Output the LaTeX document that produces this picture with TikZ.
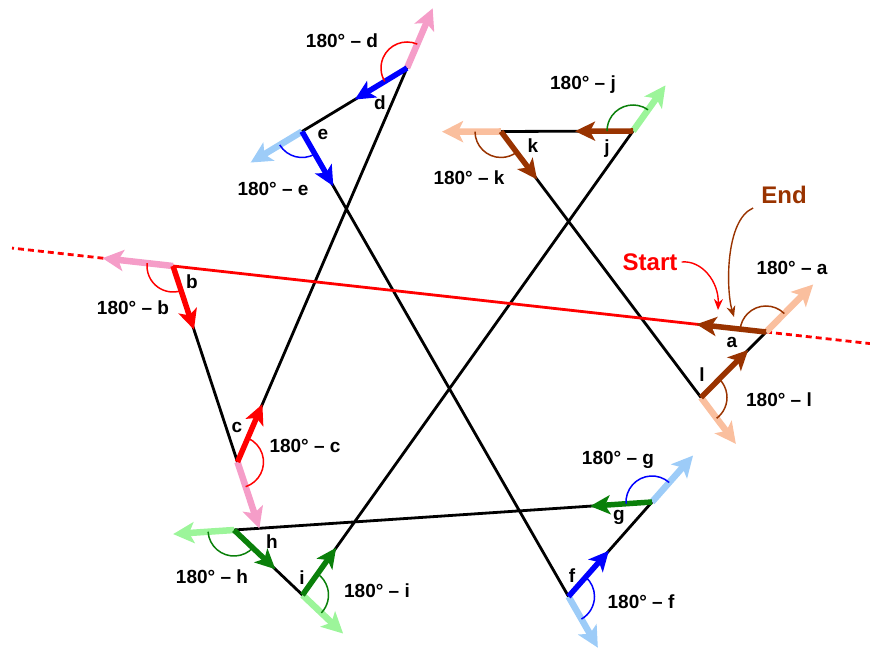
\documentclass[tikz,border=0pt]{standalone}
\usepackage{fontspec}
\setmainfont{Liberation Sans}
\usetikzlibrary{arrows.meta,calc}
\definecolor{cpink}{HTML}{F59DC8}
\definecolor{cblue}{HTML}{0000FF}
\definecolor{clblue}{HTML}{9DCCF8}
\definecolor{cgreen}{HTML}{0A800A}
\definecolor{clgreen}{HTML}{9CF59A}
\definecolor{cbrown}{HTML}{993300}
\definecolor{cpeach}{HTML}{FABF9E}
\definecolor{cred}{HTML}{FF0000}
\tikzset{
  side/.style={line width=2.8pt, black},
  extarrow/.style={line width=6.5pt, -{Stealth[length=21pt,width=21pt,inset=5pt]}},
  dirarrow/.style={line width=5.5pt, -{Stealth[length=20pt,width=19pt,inset=5pt]}},
  angarc/.style={line width=1.5pt},
  lbl/.style={font=\bfseries\fontsize{19}{22}\selectfont, inner sep=0pt},
  bigl/.style={font=\bfseries\fontsize{24}{28}\selectfont, inner sep=0pt},
  dashedred/.style={cred, line width=2.8pt, dash pattern=on 6pt off 4pt},
  curvearrow/.style={line width=1.4pt, -{Stealth[length=11pt,width=9pt]}},
}
% color, previous vertex, vertex, next vertex
\newcommand\extarc[4]{%
  \draw[angarc,#1] let \p1=($(#3)-(#2)$), \p2=($(#4)-(#3)$),
    \n1={atan2(\y1,\x1)}, \n2={atan2(\y2,\x2)},
    \n3={\n2<\n1 ? \n2+360 : \n2} in
    ($(#3)+(\n1:26pt)$) arc[start angle=\n1, end angle=\n3, radius=26pt];}
% color, previous vertex, vertex, length
\newcommand\extend[4]{\draw[extarrow,#1] (#3) -- ($(#3)!-#4pt!(#2)$);}
% color, vertex, next vertex, length
\newcommand\dirar[4]{\draw[dirarrow,#1] (#2) -- ($(#2)!#4pt!(#3)$);}
\begin{document}
\begin{tikzpicture}[x=1pt,y=1pt]
\useasboundingbox (0,0) rectangle (870,650);
\coordinate (A) at (766,318);
\coordinate (B) at (173,384);
\coordinate (C) at (237.5,188);
\coordinate (D) at (407,582);
\coordinate (E) at (302,518.5);
\coordinate (F) at (568.5,53.5);
\coordinate (G) at (652,148);
\coordinate (H) at (234,120);
\coordinate (I) at (302.5,55);
\coordinate (J) at (633,519);
\coordinate (K) at (501,518.5);
\coordinate (L) at (701,252.5);

% dashed extensions of line a-b
\draw[dashedred] (A) -- ($(A)!-105pt!(B)$);
\draw[dashedred] ($(B)!-70pt!(A)$) -- ($(B)!-162pt!(A)$);

% sides
\draw[side] (B) -- (C) -- (D) -- (E) -- (F) -- (G) -- (H) -- (I) -- (J) -- (K) -- (L) -- (A);
\draw[side,cred] (A) -- (B);

% extension arrows
\extend{cpink}{A}{B}{71}
\extend{cpink}{B}{C}{70}
\extend{cpink}{C}{D}{65}
\extend{clblue}{D}{E}{60}
\extend{clblue}{E}{F}{59}
\extend{clblue}{F}{G}{62}
\extend{clgreen}{G}{H}{61}
\extend{clgreen}{H}{I}{56}
\extend{clgreen}{I}{J}{56}
\extend{cpeach}{J}{K}{59}
\extend{cpeach}{K}{L}{58}
\extend{cpeach}{L}{A}{67}

% direction arrows
\dirar{cbrown}{A}{B}{70}
\dirar{cred}{B}{C}{67}
\dirar{cred}{C}{D}{63}
\dirar{cblue}{D}{E}{61}
\dirar{cblue}{E}{F}{63}
\dirar{cblue}{F}{G}{61}
\dirar{cgreen}{G}{H}{62}
\dirar{cgreen}{H}{I}{57}
\dirar{cgreen}{I}{J}{58}
\dirar{cbrown}{J}{K}{58}
\dirar{cbrown}{K}{L}{60}
\dirar{cbrown}{L}{A}{67}

% exterior angle arcs
\extarc{cred}{A}{B}{C}
\extarc{cred}{B}{C}{D}
\extarc{cred}{C}{D}{E}
\extarc{cblue}{D}{E}{F}
\extarc{cblue}{E}{F}{G}
\extarc{cblue}{F}{G}{H}
\extarc{cgreen}{G}{H}{I}
\extarc{cgreen}{H}{I}{J}
\extarc{cgreen}{I}{J}{K}
\extarc{cbrown}{J}{K}{L}
\extarc{cbrown}{K}{L}{A}
\extarc{cbrown}{L}{A}{B}

% labels
\node[lbl] (la) at (732,308) {a};
\node[lbl] (lb) at (192,368) {b};
\node[lbl] (lc) at (237,223) {c};
\node[lbl] (ld) at (380,547) {d};
\node[lbl] (le) at (323,516) {e};
\node[lbl] (lf) at (572,74) {f};
\node[lbl] (lg) at (619,133) {g};
\node[lbl] (lh) at (272,108) {h};
\node[lbl] (li) at (302,72) {i};
\node[lbl] (lj) at (607,501) {j};
\node[lbl] (lk) at (533,504) {k};
\node[lbl] (ll) at (702,275) {l};

\node[lbl] (xa) at (792,382) {180° – a};
\node[lbl] (xb) at (133,342) {180° – b};
\node[lbl] (xc) at (305,204) {180° – c};
\node[lbl] (xd) at (342,609) {180° – d};
\node[lbl] (xe) at (273,461) {180° – e};
\node[lbl] (xf) at (641,48) {180° – f};
\node[lbl] (xg) at (618,190) {180° – g};
\node[lbl] (xh) at (212,73) {180° – h};
\node[lbl] (xi) at (377,59) {180° – i};
\node[lbl] (xj) at (583,565) {180° – j};
\node[lbl] (xk) at (469,472) {180° – k};
\node[lbl] (xl) at (779,250) {180° – l};

% start / end
\node[bigl, text=cred] (start) at (650,388) {Start};
\node[bigl, text=cbrown] (end) at (784,455) {End};
\coordinate (starttip) at (718,340);
\coordinate (endtip) at (734,333);
\draw[curvearrow,cred] (start.east) ++(4pt,0) .. controls (702,390) and (719,368) .. (starttip);
\draw[curvearrow,cbrown] (end.south west) ++(-8pt,-4pt) .. controls (725,430) and (726,360) .. (endtip);
\end{tikzpicture}
\end{document}
